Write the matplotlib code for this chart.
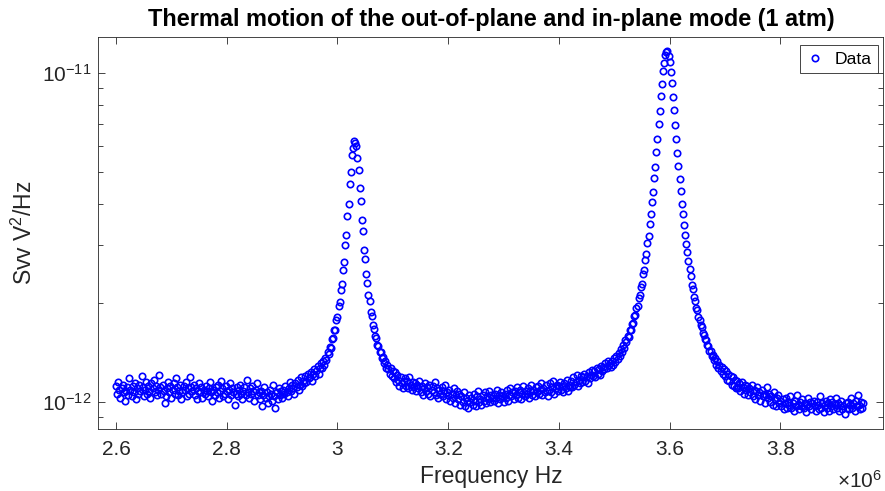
import matplotlib.pyplot as plt
import numpy as np
from matplotlib.ticker import FuncFormatter, FixedLocator, LogLocator, NullFormatter

plt.rcParams['font.family'] = ['Liberation Sans', 'DejaVu Sans']
plt.rcParams['mathtext.fontset'] = 'custom'
plt.rcParams['mathtext.rm'] = 'Liberation Sans'
plt.rcParams['mathtext.it'] = 'Liberation Sans:italic'
plt.rcParams['mathtext.bf'] = 'Liberation Sans:bold'

# frequency grid of the spectrum analyser (Hz)
freq_start = 2.6e6
freq_step = 2e3

# Svv in units of 1e-12 V^2/Hz
# 2.600 - 2.948 MHz
svv_low = [1.12, 1.06, 1.15, 1.09, 1.03, 1.10, 1.13, 1.07, 1.01, 1.08,
           1.11, 1.05, 1.18, 1.09, 1.04, 1.12, 1.07, 1.14, 1.02, 1.10,
           1.06, 1.13, 1.08, 1.20, 1.11, 1.04, 1.09, 1.15, 1.06, 1.12,
           1.08, 1.03, 1.14, 1.10, 1.17, 1.07, 1.12, 1.05, 1.09, 1.21,
           1.11, 1.06, 1.13, 1.08, 0.99, 1.04, 1.10, 1.15, 1.07, 1.12,
           1.03, 1.09, 1.14, 1.06, 1.18, 1.11, 1.05, 1.08, 1.13, 1.02,
           1.07, 1.12, 1.09, 1.15, 1.04, 1.10, 1.06, 1.19, 1.11, 1.08,
           1.13, 1.05, 1.10, 1.02, 1.08, 1.14, 1.07, 1.11, 1.03, 1.09,
           1.06, 1.12, 1.08, 1.04, 1.10, 1.15, 1.07, 1.01, 1.09, 1.05,
           1.11, 1.07, 1.13, 1.03, 1.08, 1.16, 1.10, 1.04, 1.06, 1.12,
           1.08, 1.02, 1.09, 1.14, 1.05, 1.10, 1.07, 0.98, 1.06, 1.11,
           1.04, 1.09, 1.13, 1.06, 1.02, 1.08, 1.11, 1.05, 1.17, 1.07,
           1.03, 1.10, 1.06, 1.12, 1.08, 1.01, 1.09, 1.14, 1.05, 1.07,
           1.02, 1.08, 0.97, 1.05, 1.11, 1.03, 1.07, 0.99, 1.04, 1.09,
           1.06, 1.01, 1.13, 1.04, 0.96, 1.07, 1.02, 1.10, 1.05, 1.08,
           1.03, 1.09, 1.06, 1.12, 1.07, 1.04, 1.10, 1.15, 1.08, 1.13,
           1.10, 1.06, 1.14, 1.11, 1.17, 1.09, 1.13, 1.19, 1.12, 1.16,
           1.14, 1.20, 1.15, 1.22, 1.18]
# 2.950 - 3.120 MHz (out-of-plane mode)
svv_peak1 = [1.19, 1.23, 1.16, 1.22, 1.26, 1.20, 1.24, 1.29, 1.22, 1.27,
             1.31, 1.27, 1.33, 1.30, 1.36, 1.34, 1.42, 1.40, 1.47, 1.46,
             1.55, 1.56, 1.65, 1.66, 1.78, 1.81, 1.95, 2.01, 2.19, 2.28,
             2.52, 2.66, 2.99, 3.22, 3.68, 4.00, 4.60, 4.98, 5.62, 5.90,
             6.22,
             6.12, 6.00, 5.49, 5.08, 4.48, 4.08, 3.58, 3.30, 2.90, 2.71,
             2.44, 2.30, 2.11, 2.02, 1.87, 1.82, 1.71, 1.67, 1.59, 1.57,
             1.49, 1.48, 1.42, 1.42, 1.36, 1.37, 1.31, 1.33, 1.27, 1.30,
             1.26, 1.22, 1.27, 1.20, 1.24, 1.18, 1.23, 1.15, 1.21, 1.17,
             1.12, 1.19, 1.14, 1.10, 1.16]
# 3.122 - 3.490 MHz
svv_mid = [1.18, 1.12, 1.16, 1.10, 1.19, 1.13, 1.09, 1.15, 1.11, 1.14,
           1.08, 1.13, 1.10, 1.16, 1.07, 1.12, 1.05, 1.10, 1.14, 1.08,
           1.11, 1.06, 1.13, 1.04, 1.09, 1.12, 1.07, 1.15, 1.05, 1.10,
           1.03, 1.09, 1.06, 1.11, 1.04, 1.08, 1.13, 1.02, 1.07, 1.05,
           1.09, 1.01, 1.06, 1.03, 1.10, 0.99, 1.05, 1.08, 1.02, 1.06,
           0.98, 1.04, 1.00, 1.07, 0.97, 1.03, 1.01, 0.96, 1.05, 1.00,
           1.03, 0.98, 1.06, 1.01, 0.97, 1.04, 1.08, 1.00, 1.02, 0.98,
           1.05, 1.01, 1.07, 0.99, 1.04, 1.02, 1.08, 1.00, 1.05, 1.03,
           1.01, 1.06, 1.03, 1.09, 0.99, 1.05, 1.02, 1.07, 1.04, 1.00,
           1.06, 1.03, 1.09, 1.01, 1.05, 1.10, 1.04, 1.07, 1.02, 1.08,
           1.05, 1.11, 1.03, 1.07, 1.09, 1.02, 1.06, 1.12, 1.04, 1.08,
           1.06, 1.10, 1.03, 1.08, 1.13, 1.05, 1.09, 1.04, 1.11, 1.07,
           1.12, 1.06, 1.09, 1.14, 1.05, 1.10, 1.07, 1.13, 1.08, 1.04,
           1.09, 1.14, 1.07, 1.11, 1.16, 1.06, 1.10, 1.13, 1.08, 1.12,
           1.15, 1.09, 1.12, 1.07, 1.14, 1.10, 1.17, 1.08, 1.13, 1.11,
           1.16, 1.11, 1.19, 1.13, 1.15, 1.21, 1.12, 1.17, 1.14, 1.20,
           1.15, 1.19, 1.22, 1.16, 1.20, 1.14, 1.23, 1.18, 1.21, 1.25,
           1.20, 1.24, 1.19, 1.27, 1.22, 1.26, 1.21, 1.29, 1.24, 1.28,
           1.26, 1.31, 1.27, 1.33, 1.30]
# 3.492 - 3.720 MHz (in-plane mode)
svv_peak2 = [1.31, 1.28, 1.33, 1.30, 1.36, 1.32, 1.38, 1.35, 1.41, 1.38,
             1.45, 1.42, 1.49, 1.46, 1.54, 1.52, 1.59, 1.58, 1.66, 1.65,
             1.73, 1.74, 1.83, 1.84, 1.93, 1.96, 2.07, 2.11, 2.23, 2.29,
             2.44, 2.52, 2.70, 2.82, 3.04, 3.20, 3.47, 3.71, 4.04, 4.33,
             4.79, 5.18, 5.75, 6.28, 7.00, 7.66, 8.50, 9.25, 10.10, 10.70,
             11.30, 11.55,
             11.60, 11.25, 10.78, 10.02, 9.30, 8.44, 7.70, 6.95, 6.30, 5.70,
             5.21, 4.74, 4.36, 4.00, 3.72, 3.44, 3.22, 3.01, 2.85, 2.68,
             2.53, 2.41, 2.27, 2.20, 2.08, 2.03, 1.93, 1.90, 1.81, 1.78,
             1.71, 1.69, 1.62, 1.60, 1.55, 1.54, 1.49, 1.48, 1.43, 1.43,
             1.38, 1.39, 1.34, 1.36, 1.30, 1.33, 1.27, 1.30, 1.24, 1.28,
             1.22, 1.26, 1.20, 1.24, 1.17, 1.22, 1.16, 1.20, 1.13, 1.19,
             1.12, 1.17, 1.10]
# 3.722 - 3.950 MHz
svv_high = [1.16, 1.10, 1.14, 1.08, 1.15, 1.11, 1.06, 1.13, 1.09, 1.12,
            1.05, 1.10, 1.07, 1.13, 1.04, 1.09, 1.02, 1.08, 1.11, 1.05,
            1.07, 1.01, 1.09, 1.04, 1.06, 0.99, 1.05, 1.11, 1.03, 1.06,
            1.00, 1.04, 0.98, 1.07, 1.02, 0.97, 1.03, 1.05, 0.99, 1.01,
            0.97, 1.02, 0.95, 0.99, 1.03, 0.96, 1.00, 0.98, 1.04, 0.96,
            0.99, 0.94, 1.01, 0.97, 1.05, 0.98, 0.95, 1.00, 0.97, 1.02,
            0.96, 0.99, 0.93, 0.98, 1.03, 0.97, 1.00, 0.95, 0.99, 1.01,
            0.97, 0.94, 1.00, 0.98, 0.95, 1.04, 0.96, 0.99, 0.93, 0.98,
            1.01, 0.96, 0.99, 0.94, 1.02, 0.97, 1.00, 0.95, 0.98, 1.03,
            0.96, 0.99, 0.94, 0.98, 1.01, 0.95, 0.97, 0.92, 0.99, 0.96,
            1.00, 0.95, 0.98, 1.03, 0.96, 0.99, 0.94, 1.01, 0.97, 1.05,
            0.98, 0.95, 1.00, 0.96, 0.99]

svv = np.concatenate([svv_low, svv_peak1, svv_mid, svv_peak2, svv_high]) * 1e-12
freq = freq_start + freq_step * np.arange(len(svv))

fig = plt.figure(figsize=(8.85, 4.91), dpi=100)
ax = fig.add_axes([0.1111, 0.1269, 0.8870, 0.7971])

ax.semilogy(freq, svv, 'o', mfc='none', mec=(0, 0, 1), ms=4.6, mew=1.2,
            label='Data')

ax.set_xlim(2.568e6, 3.986e6)
ax.set_ylim(8.3e-13, 1.28e-11)

ax.set_xticks(np.arange(2.6e6, 3.81e6, 0.2e6))
ax.xaxis.set_major_formatter(FuncFormatter(lambda v, p: f'{v / 1e6:g}'))
ax.yaxis.set_major_locator(FixedLocator([1e-12, 1e-11]))
ax.yaxis.set_minor_locator(LogLocator(base=10, subs=np.arange(2, 10)))
ax.yaxis.set_minor_formatter(NullFormatter())

ax.tick_params(which='both', direction='in', top=True, right=True,
               color='#262626', width=0.6, labelcolor='#262626', labelsize=15)
ax.tick_params(which='major', length=5)
ax.tick_params(which='minor', length=3.5)
ax.tick_params(axis='x', pad=8)
ax.tick_params(axis='y', pad=5)
for s in ax.spines.values():
    s.set_color('#262626')
    s.set_linewidth(0.6)

ax.set_title('Thermal motion of the out-of-plane and in-plane mode (1 atm)',
             fontsize=16.9, fontweight='bold', pad=8)
ax.set_xlabel('Frequency Hz', fontsize=16.5, color='#262626')
ax.set_ylabel('Svv V$^2$/Hz', fontsize=16.5, color='#262626')
ax.xaxis.set_label_coords(0.5, -0.092)
ax.yaxis.set_label_coords(-0.078, 0.5)

fig.text(882 / 885, 1 - 488 / 491, r'$\times$10$^{6}$', ha='right', va='baseline',
         fontsize=15, color='#262626')

leg = ax.legend(loc='upper right', bbox_to_anchor=(0.9927, 0.9796),
                borderaxespad=0, numpoints=1, handlelength=1.0,
                handletextpad=0.6, borderpad=0.35, fancybox=False,
                edgecolor='#262626', framealpha=1, fontsize=12.6)
leg.get_frame().set_linewidth(0.6)

fig.savefig('out.png', dpi=100)
